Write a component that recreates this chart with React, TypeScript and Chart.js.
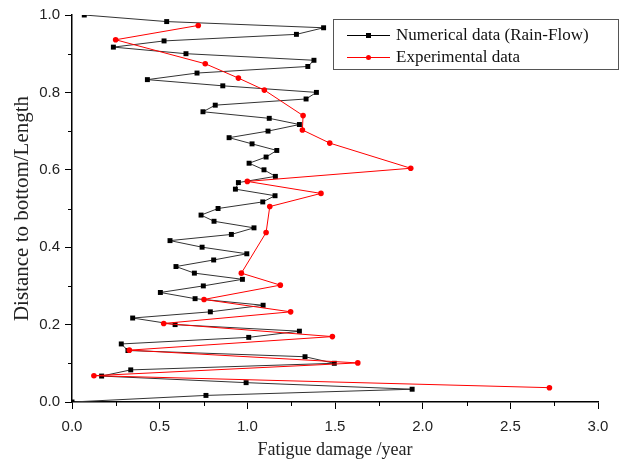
import { useEffect, useRef } from "react";
import { Chart, registerables } from "chart.js";

Chart.register(...registerables);

// Numerical data (Rain-Flow)
const numericalX = [
  0.07, 0.54, 1.435, 1.28, 0.525, 0.236, 0.65, 1.38, 1.345, 0.713,
  0.43, 0.86, 1.394, 1.335, 0.817, 0.747, 1.125, 1.297, 1.118, 0.896,
  1.027, 1.168, 1.107, 1.01, 1.095, 1.16, 0.949, 0.932, 1.158, 1.088,
  0.833, 0.736, 0.81, 1.038, 0.909, 0.559, 0.742, 0.997, 0.808, 0.593,
  0.698, 0.972, 0.749, 0.504, 0.702, 1.09, 0.789, 0.346, 0.588, 1.297,
  1.008, 0.281, 0.319, 1.329, 1.496, 0.335, 0.169, 0.993, 1.94, 0.764,
  0.0,
];
const numericalY = [
  1.0, 0.983, 0.967, 0.95, 0.933, 0.917, 0.9, 0.883, 0.867, 0.85,
  0.833, 0.817, 0.8, 0.783, 0.767, 0.75, 0.733, 0.717, 0.7, 0.683,
  0.667, 0.65, 0.633, 0.617, 0.6, 0.583, 0.567, 0.55, 0.533, 0.517,
  0.5, 0.483, 0.467, 0.45, 0.433, 0.417, 0.4, 0.383, 0.367, 0.35,
  0.333, 0.317, 0.3, 0.283, 0.267, 0.25, 0.233, 0.217, 0.2, 0.183,
  0.167, 0.15, 0.133, 0.117, 0.1, 0.083, 0.067, 0.05, 0.033, 0.017,
  0.0,
];

// Experimental data
const experimentalX = [
  0.72, 0.249, 0.76, 0.949, 1.097, 1.318, 1.314, 1.47, 1.932, 1.0,
  1.42, 1.128, 1.107, 0.966, 1.188, 0.753, 1.247, 0.523, 1.485, 0.327,
  1.63, 0.125, 2.723,
];
const experimentalY = [
  0.973, 0.936, 0.874, 0.837, 0.806, 0.74, 0.703, 0.669, 0.604, 0.57,
  0.539, 0.505, 0.438, 0.333, 0.302, 0.265, 0.233, 0.203, 0.169, 0.134,
  0.101, 0.068, 0.037,
];

const seriesNames = ["Numerical data (Rain-Flow)", "Experimental data"];
const xTitle = "Fatigue damage /year";
const yTitle = "Distance to bottom/Length";
const xMin = 0, xMax = 3, xStep = 0.5, xMinorStep = 0.25;
const yMin = 0, yMax = 1, yStep = 0.2, yMinorStep = 0.1;

const SERIF = "'Liberation Serif', 'Times New Roman', serif";
const SANS = "'Liberation Sans', Arial, sans-serif";

const minorTicksAndLegend = {
  id: "minorTicksAndLegend",
  afterDraw(chart: any) {
    const ctx = chart.ctx;
    const xs = chart.scales.x;
    const ys = chart.scales.y;
    const area = chart.chartArea;
    ctx.save();
    ctx.strokeStyle = "#000";
    ctx.lineWidth = 1;
    ctx.beginPath();
    for (let v = xMin + xMinorStep; v < xMax; v += xStep) {
      const px = Math.round(xs.getPixelForValue(v)) + 0.5;
      ctx.moveTo(px, area.bottom);
      ctx.lineTo(px, area.bottom + 4);
    }
    for (let v = yMin + yMinorStep; v < yMax; v += yStep) {
      const py = Math.round(ys.getPixelForValue(v)) + 0.5;
      ctx.moveTo(area.left, py);
      ctx.lineTo(area.left - 4, py);
    }
    ctx.stroke();

    // legend
    const bx = 333, by = 19, bw = 285, bh = 50;
    ctx.fillStyle = "#fff";
    ctx.fillRect(bx, by, bw, bh);
    ctx.strokeStyle = "#555";
    ctx.lineWidth = 1;
    ctx.strokeRect(bx + 0.5, by + 0.5, bw, bh);
    const rows = [
      { y: 35, color: "#000", style: "rect" },
      { y: 57, color: "#ff0000", style: "circle" },
    ];
    rows.forEach((r, i) => {
      ctx.strokeStyle = r.color;
      ctx.lineWidth = 1;
      ctx.beginPath();
      ctx.moveTo(347, r.y + 0.5);
      ctx.lineTo(390, r.y + 0.5);
      ctx.stroke();
      ctx.fillStyle = r.color;
      if (r.style === "rect") {
        ctx.fillRect(366, r.y - 2, 5, 5);
      } else {
        ctx.beginPath();
        ctx.arc(368.5, r.y + 0.5, 2.5, 0, Math.PI * 2);
        ctx.fill();
      }
      ctx.fillStyle = "#111";
      ctx.font = `17px ${SERIF}`;
      ctx.textBaseline = "middle";
      ctx.textAlign = "left";
      ctx.fillText(seriesNames[i], 396, r.y + 1);
    });
    ctx.restore();
  },
};

export default function App() {
  const ref = useRef<HTMLCanvasElement | null>(null);
  useEffect(() => {
    if (!ref.current) return;
    const chart = new Chart(ref.current, {
      type: "scatter",
      data: {
        datasets: [
          {
            label: seriesNames[0],
            data: numericalX.map((x, i) => ({ x, y: numericalY[i] })),
            showLine: true,
            borderColor: "#333",
            borderWidth: 1,
            pointStyle: "rect",
            pointRadius: 3.5,
            pointBackgroundColor: "#000",
            pointBorderColor: "#000",
            pointBorderWidth: 0,
            order: 1,
          },
          {
            label: seriesNames[1],
            data: experimentalX.map((x, i) => ({ x, y: experimentalY[i] })),
            showLine: true,
            borderColor: "#ff0000",
            borderWidth: 1,
            pointStyle: "circle",
            pointRadius: 2.8,
            pointBackgroundColor: "#ff0000",
            pointBorderColor: "#ff0000",
            pointBorderWidth: 0,
            order: 0,
          },
        ],
      },
      options: {
        animation: false,
        responsive: false,
        maintainAspectRatio: false,
        layout: { padding: { top: 15, right: 29, left: 0, bottom: 0 } },
        plugins: {
          legend: { display: false },
          tooltip: { enabled: false },
        },
        scales: {
          x: {
            type: "linear",
            min: xMin,
            max: xMax,
            afterFit: (s: any) => {
              s.height = 61;
            },
            ticks: {
              stepSize: xStep,
              callback: (v: any) => Number(v).toFixed(1),
              font: { family: SANS, size: 15 },
              color: "#222",
              padding: 9,
              maxRotation: 0,
            },
            grid: {
              drawOnChartArea: false,
              drawTicks: true,
              tickLength: 7,
              color: "#000",
            },
            border: { display: true, color: "#000", width: 1.5 },
            title: {
              display: true,
              text: xTitle,
              font: { family: SERIF, size: 18 },
              color: "#222",
              padding: { top: 0, bottom: 2 },
            },
          },
          y: {
            type: "linear",
            min: yMin,
            max: yMax,
            afterFit: (s: any) => {
              s.width = 72;
            },
            ticks: {
              stepSize: yStep,
              callback: (v: any) => Number(v).toFixed(1),
              font: { family: SANS, size: 15 },
              color: "#222",
              padding: 5,
            },
            grid: {
              drawOnChartArea: false,
              drawTicks: true,
              tickLength: 7,
              color: "#000",
            },
            border: { display: true, color: "#000", width: 1.5 },
            title: {
              display: true,
              text: yTitle,
              font: { family: SERIF, size: 21 },
              color: "#222",
              padding: { top: 10, bottom: 0 },
            },
          },
        },
      },
      plugins: [minorTicksAndLegend],
    } as any);
    return () => chart.destroy();
  }, []);
  return (
    <div style={{ position: "fixed", left: 0, top: 0, width: 627, height: 463, background: "#fff" }}>
      <canvas ref={ref} width={627} height={463} style={{ width: 627, height: 463 }} />
    </div>
  );
}
